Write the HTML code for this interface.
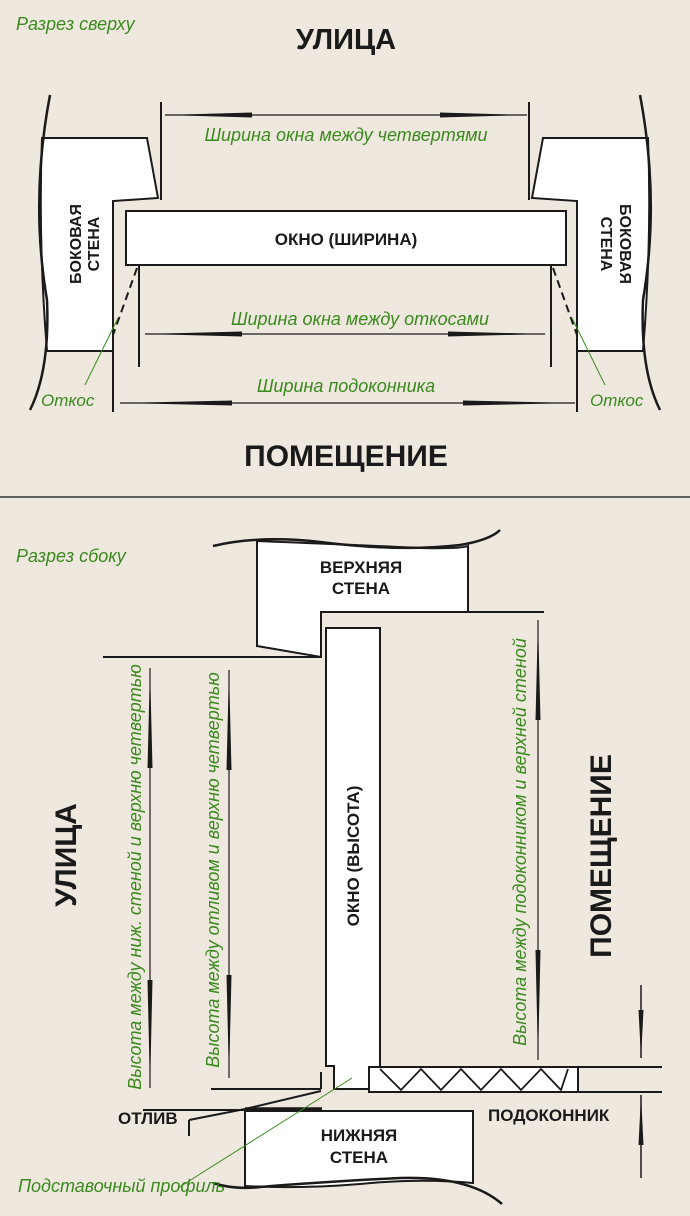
<!DOCTYPE html>
<html><head><meta charset="utf-8"><style>
html,body{margin:0;padding:0;background:#efe8df}
svg{display:block}
.g{fill:#3a8a1e;font-family:"Liberation Sans",sans-serif;font-style:italic;font-size:18px}
.b{fill:#1a1a1a;font-family:"Liberation Sans",sans-serif;font-weight:bold}
</style></head><body>
<svg width="690" height="1216" viewBox="0 0 690 1216" xmlns="http://www.w3.org/2000/svg">
<rect width="690" height="1216" fill="#efe8df"/>
<g stroke="#1a1a1a" fill="none" stroke-width="2">
<path d="M42,138 L147,138 L158,198 L113,201 L113,351 L47,351 Q38,240 42,138 Z" fill="#fff"/>
<path d="M50,95 Q30,200 47,300 Q50,370 30,410" stroke-width="2.5"/>
<line x1="161" y1="102" x2="161" y2="200"/>
<line x1="113" y1="201" x2="113" y2="412"/>
<path d="M648,138 L543,138 L532,198 L577,201 L577,351 L643,351 Q652,240 648,138 Z" fill="#fff"/>
<path d="M640,95 Q660,200 643,300 Q640,370 660,410" stroke-width="2.5"/>
<line x1="529" y1="102" x2="529" y2="200"/>
<line x1="577" y1="201" x2="577" y2="412"/>
<rect x="126" y="211" width="440" height="54" fill="#fff"/>
<line x1="139" y1="265" x2="139" y2="367"/>
<line x1="551" y1="265" x2="551" y2="367"/>
<line x1="137" y1="268" x2="113" y2="335" stroke-dasharray="8,5"/>
<line x1="553" y1="268" x2="577" y2="335" stroke-dasharray="8,5"/>
<line x1="165" y1="115" x2="527" y2="115" stroke-width="1.2"/>
<line x1="145" y1="334" x2="545" y2="334" stroke-width="1.2"/>
<line x1="120" y1="403" x2="575" y2="403" stroke-width="1.2"/>
</g>
<g fill="#1a1a1a">
<polygon points="165,115 252,112.5 252,117.5"/><polygon points="527,115 440,112.5 440,117.5"/>
<polygon points="145,334 242,331.5 242,336.5"/><polygon points="545,334 448,331.5 448,336.5"/>
<polygon points="120,403 232,400.5 232,405.5"/><polygon points="575,403 463,400.5 463,405.5"/>
</g>
<g stroke="#3a8a1e" stroke-width="1">
<line x1="85" y1="385" x2="118" y2="318"/>
<line x1="605" y1="385" x2="572" y2="318"/>
</g>
<text x="16" y="30" class="g">Разрез сверху</text>
<text x="346" y="49" class="b" font-size="29" text-anchor="middle">УЛИЦА</text>
<text x="346" y="141" class="g" text-anchor="middle">Ширина окна между четвертями</text>
<text x="346" y="245" class="b" font-size="17" text-anchor="middle">ОКНО (ШИРИНА)</text>
<text x="360" y="325" class="g" text-anchor="middle">Ширина окна между откосами</text>
<text x="346" y="392" class="g" text-anchor="middle">Ширина подоконника</text>
<text x="41" y="406" class="g" style="font-size:17px">Откос</text>
<text x="590" y="406" class="g" style="font-size:17px">Откос</text>
<text x="346" y="466" class="b" font-size="30" text-anchor="middle">ПОМЕЩЕНИЕ</text>
<text transform="translate(81,244) rotate(-90)" class="b" font-size="16" text-anchor="middle">БОКОВАЯ</text>
<text transform="translate(99,244) rotate(-90)" class="b" font-size="16" text-anchor="middle">СТЕНА</text>
<text transform="translate(620,244) rotate(90)" class="b" font-size="16" text-anchor="middle">БОКОВАЯ</text>
<text transform="translate(601,244) rotate(90)" class="b" font-size="16" text-anchor="middle">СТЕНА</text>
<line x1="0" y1="497" x2="690" y2="497" stroke="#333" stroke-width="1.5"/>

<g stroke="#1a1a1a" fill="none" stroke-width="2">
<path d="M257,541 Q360,545 420,548 Q460,549 468,546 L468,612 L321,612 L321,657 L257,646 Z" fill="#fff"/>
<path d="M213,546 Q260,535 320,542 Q400,552 460,545 Q490,540 500,530" stroke-width="2.5"/>
<line x1="321" y1="612" x2="544" y2="612"/>
<line x1="103" y1="657" x2="321" y2="657"/>
<path d="M326,628 L380,628 L380,1067 L369,1067 L369,1089 L334,1089 L334,1066 L326,1066 Z" fill="#fff"/>
<line x1="321" y1="1072" x2="321" y2="1089"/>
<line x1="211" y1="1089" x2="321" y2="1089"/>
<line x1="321" y1="1091" x2="245" y2="1109"/>
<line x1="245" y1="1109" x2="189" y2="1120"/>
<line x1="189" y1="1120" x2="189" y2="1136"/>
<line x1="143" y1="1110" x2="245" y2="1110"/>
<line x1="245" y1="1109" x2="322" y2="1109" stroke-width="3.5"/>
<path d="M245,1111 L473,1111 L473,1183 Q420,1178 360,1184 Q300,1189 245,1186 Z" fill="#fff"/>
<path d="M213,1183 Q235,1190 260,1187 Q320,1182 400,1178 Q470,1176 502,1204" stroke-width="2.5"/>
<rect x="369" y="1067" width="209" height="25" fill="#fff"/>
<polyline points="380,1069 401,1090 421,1069 441,1090 461,1069 481,1090 501,1069 521,1090 541,1069 561,1090 568,1069" stroke-width="1.8"/>
<line x1="578" y1="1067" x2="662" y2="1067"/>
<line x1="578" y1="1092" x2="662" y2="1092"/>
<line x1="641" y1="985" x2="641" y2="1058" stroke-width="1.5"/>
<line x1="641" y1="1095" x2="641" y2="1178" stroke-width="1.5"/>
<line x1="150" y1="668" x2="150" y2="1088" stroke-width="1.2"/>
<line x1="229" y1="670" x2="229" y2="1078" stroke-width="1.2"/>
<line x1="538" y1="620" x2="538" y2="1060" stroke-width="1.2"/>
</g>
<g fill="#1a1a1a">
<polygon points="641,1058 638.5,1010 643.5,1010"/><polygon points="641,1095 638.5,1145 643.5,1145"/>
<polygon points="150,668 147.5,768 152.5,768"/><polygon points="150,1088 147.5,980 152.5,980"/>
<polygon points="229,670 226.5,770 231.5,770"/><polygon points="229,1078 226.5,975 231.5,975"/>
<polygon points="538,620 535.5,720 540.5,720"/><polygon points="538,1060 535.5,950 540.5,950"/>
</g>
<line x1="352" y1="1078" x2="178" y2="1188" stroke="#3a8a1e" stroke-width="1"/>
<text x="16" y="562" class="g">Разрез сбоку</text>
<text x="361" y="573" class="b" font-size="17" text-anchor="middle">ВЕРХНЯЯ</text>
<text x="361" y="594" class="b" font-size="17" text-anchor="middle">СТЕНА</text>
<text transform="translate(359,856) rotate(-90)" class="b" font-size="17" text-anchor="middle">ОКНО (ВЫСОТА)</text>
<text transform="translate(76,855) rotate(-90)" class="b" font-size="30" text-anchor="middle">УЛИЦА</text>
<text transform="translate(611,856) rotate(-90)" class="b" font-size="30" text-anchor="middle">ПОМЕЩЕНИЕ</text>
<text transform="translate(141,877) rotate(-90)" class="g" text-anchor="middle">Высота между ниж. стеной и верхню четвертью</text>
<text transform="translate(219,870) rotate(-90)" class="g" text-anchor="middle">Высота между отливом и верхню четвертью</text>
<text transform="translate(526,842) rotate(-90)" class="g" text-anchor="middle">Высота между подоконником и верхней стеной</text>
<text x="118" y="1124" class="b" font-size="17">ОТЛИВ</text>
<text x="488" y="1121" class="b" font-size="17">ПОДОКОННИК</text>
<text x="359" y="1141" class="b" font-size="17" text-anchor="middle">НИЖНЯЯ</text>
<text x="359" y="1163" class="b" font-size="17" text-anchor="middle">СТЕНА</text>
<text x="18" y="1192" class="g">Подставочный профиль</text>
</svg>
</body></html>
